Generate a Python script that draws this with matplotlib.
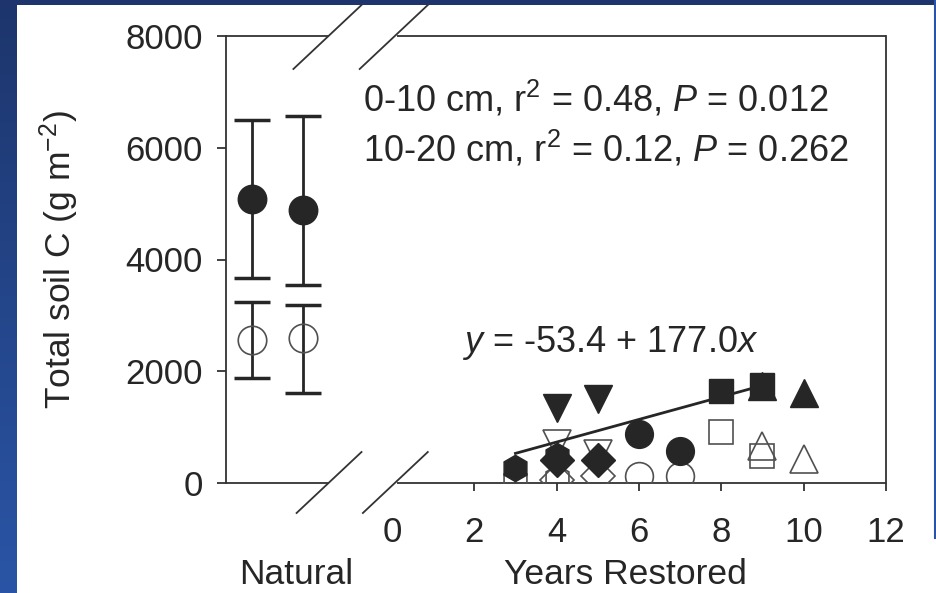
import matplotlib
matplotlib.use("Agg")
import matplotlib.pyplot as plt
import numpy as np
from matplotlib.lines import Line2D
from matplotlib.colors import LinearSegmentedColormap

plt.rcParams['font.family'] = ['Liberation Sans', 'DejaVu Sans']
plt.rcParams['mathtext.fontset'] = 'custom'
plt.rcParams['mathtext.rm'] = 'Liberation Sans'
plt.rcParams['mathtext.it'] = 'Liberation Sans:italic'
plt.rcParams['mathtext.bf'] = 'Liberation Sans:bold'

# ---------------- data ----------------
nat_x = [-3.40, -2.16]
nat_top = [5080, 4880]          # 0-10 cm
nat_top_lo = [1410, 1340]
nat_top_hi = [1410, 1685]
nat_sub = [2560, 2590]          # 10-20 cm
nat_sub_lo = [680, 980]
nat_sub_hi = [680, 590]

hex_years = [3, 4]
hex_top = [265, 480]
hex_sub = [50, 90]

dtri_years = [4, 5]
dtri_top = [1350, 1495]
dtri_sub = [700, 520]

dia_years = [4, 5]
dia_top = [420, 410]
dia_sub = [60, 125]

circ_years = [6, 7]
circ_top = [870, 570]
circ_sub = [130, 120]

sq_years = [8, 9]
sq_top = [1645, 1760]
sq_sub = [910, 480]

utri_years = [9, 10]
utri_top = [1740, 1610]
utri_sub = [660, 430]

fit_x = [3, 9]
fit_y = [530, 1745]

yticks = [0, 2000, 4000, 6000, 8000]
xticks = [0, 2, 4, 6, 8, 10, 12]

# ---------------- figure ----------------
W, H = 937, 593
fig = plt.figure(figsize=(W / 100, H / 100), dpi=100)
fig.patch.set_facecolor('white')

# slide background strips
grad = np.linspace(0, 1, 256).reshape(-1, 1)
cmap = LinearSegmentedColormap.from_list('b', ['#1d356c', '#2a55a6'])
bax = fig.add_axes([0, 0, 17 / W, 1])
bax.imshow(grad, aspect='auto', cmap=cmap, extent=[0, 1, 0, 1], origin='upper')
bax.set_axis_off()
tax = fig.add_axes([0, 1 - 5 / H, 1, 5 / H])
tax.set_facecolor('#1d356c')
tax.set_xticks([]); tax.set_yticks([])
for s in tax.spines.values():
    s.set_visible(False)
fig.add_artist(Line2D([935.5 / W, 935.5 / W], [1, 1 - 538 / H], color='#2a55a6', lw=1.5,
                      transform=fig.transFigure))

ax = fig.add_axes([226 / W, 1 - 483 / H, (886 - 226) / W, (483 - 36) / H])
ax.set_xlim(-4.03, 12)
ax.set_ylim(0, 8000)
ax.patch.set_alpha(0)

fill_c = '#262626'
open_c = '#505050'
txt_c = '#262626'

# natural: error bars
ax.errorbar(nat_x, nat_sub, yerr=[nat_sub_lo, nat_sub_hi], fmt='none', ecolor=fill_c,
            elinewidth=2, capsize=13, capthick=2.5, zorder=2)
ax.errorbar(nat_x, nat_top, yerr=[nat_top_lo, nat_top_hi], fmt='none', ecolor=fill_c,
            elinewidth=2, capsize=13, capthick=2.5, zorder=2)
ax.plot(nat_x, nat_sub, 'o', ms=20.5, mfc='none', mec=open_c, mew=1.2, ls='none', zorder=3)
ax.plot(nat_x, nat_top, 'o', ms=20.5, mfc=fill_c, mec=fill_c, ls='none', zorder=4)

# restored sites
series = [
    (hex_years, hex_top, hex_sub, 'h', 19),
    (dtri_years, dtri_top, dtri_sub, 'v', 19.5),
    (dia_years, dia_top, dia_sub, 'D', 17),
    (circ_years, circ_top, circ_sub, 'o', 20),
    (utri_years, utri_top, utri_sub, '^', 19.5),
    (sq_years, sq_top, sq_sub, 's', 17),
]
for yrs, top, sub, m, ms in series:
    ax.plot(yrs, sub, m, ms=ms, mfc='none', mec=open_c, mew=1.2, ls='none', zorder=3)

ax.plot(fit_x, fit_y, '-', color=fill_c, lw=2, zorder=4)

for yrs, top, sub, m, ms in series:
    ax.plot(yrs, top, m, ms=ms, mfc=fill_c, mec=fill_c, ls='none', zorder=5)

# axes styling
for s in ['top', 'bottom']:
    ax.spines[s].set_visible(False)
for s in ['left', 'right']:
    ax.spines[s].set_color('#333333')
    ax.spines[s].set_linewidth(1.3)

ax.set_yticks(yticks)
ax.set_yticklabels([str(v) for v in yticks])
ax.set_xticks(xticks)
ax.set_xticklabels([str(v) for v in xticks])
ax.tick_params(axis='y', direction='out', length=6.5, width=1.3, pad=10,
               labelsize=25, colors='#333333', labelcolor=txt_c)
ax.tick_params(axis='x', direction='out', length=5.5, width=1.3, pad=18,
               labelsize=25, colors='#333333', labelcolor=txt_c)
ax.xaxis.get_major_ticks()[0].tick1line.set_visible(False)

# broken top/bottom axis lines
seg_left = (-4.03, -1.52)
seg_right = (0.12, 12)
for yv in (0, 8000):
    for a, b in (seg_left, seg_right):
        ax.plot([a, b], [yv, yv], color='#333333', lw=1.3, clip_on=False, zorder=1,
                solid_capstyle='butt')

# break slashes (decorations in display pixels around break centres)
fig.canvas.draw()
for xb in (-1.54, 0.07):
    for yv, dy_lo, dy_hi in ((0, -30, 31), (8000, -33, 31)):
        cx, cy = ax.transData.transform((xb, yv))
        x0, y0 = cx - 33 * (-dy_lo) / 31, cy + dy_lo
        x1, y1 = cx + 33, cy + dy_hi
        fig.add_artist(Line2D([x0 / W, x1 / W], [y0 / H, y1 / H], color='#333333', lw=1.3,
                              transform=fig.transFigure))

ax.set_ylabel('Total soil C (g m$^{-2}$)', fontsize=25.5, color=txt_c, labelpad=32)

fig.text(363 / W, 1 - 112 / H, '0-10 cm, r$^2$ = 0.48, $P$ = 0.012', fontsize=26,
         color=txt_c, va='baseline', ha='left')
fig.text(363 / W, 1 - 161 / H, '10-20 cm, r$^2$ = 0.12, $P$ = 0.262', fontsize=26,
         color=txt_c, va='baseline', ha='left')
fig.text(462 / W, 1 - 352 / H, '$y$ = -53.4 + 177.0$x$', fontsize=26,
         color=txt_c, va='baseline', ha='left')

fig.text(296 / W, 1 - 584 / H, 'Natural', fontsize=25.5, color=txt_c, ha='center', va='baseline')
fig.text(625 / W, 1 - 584 / H, 'Years Restored', fontsize=25.5, color=txt_c, ha='center',
         va='baseline')

fig.savefig('out.png', dpi=100, facecolor='white')
